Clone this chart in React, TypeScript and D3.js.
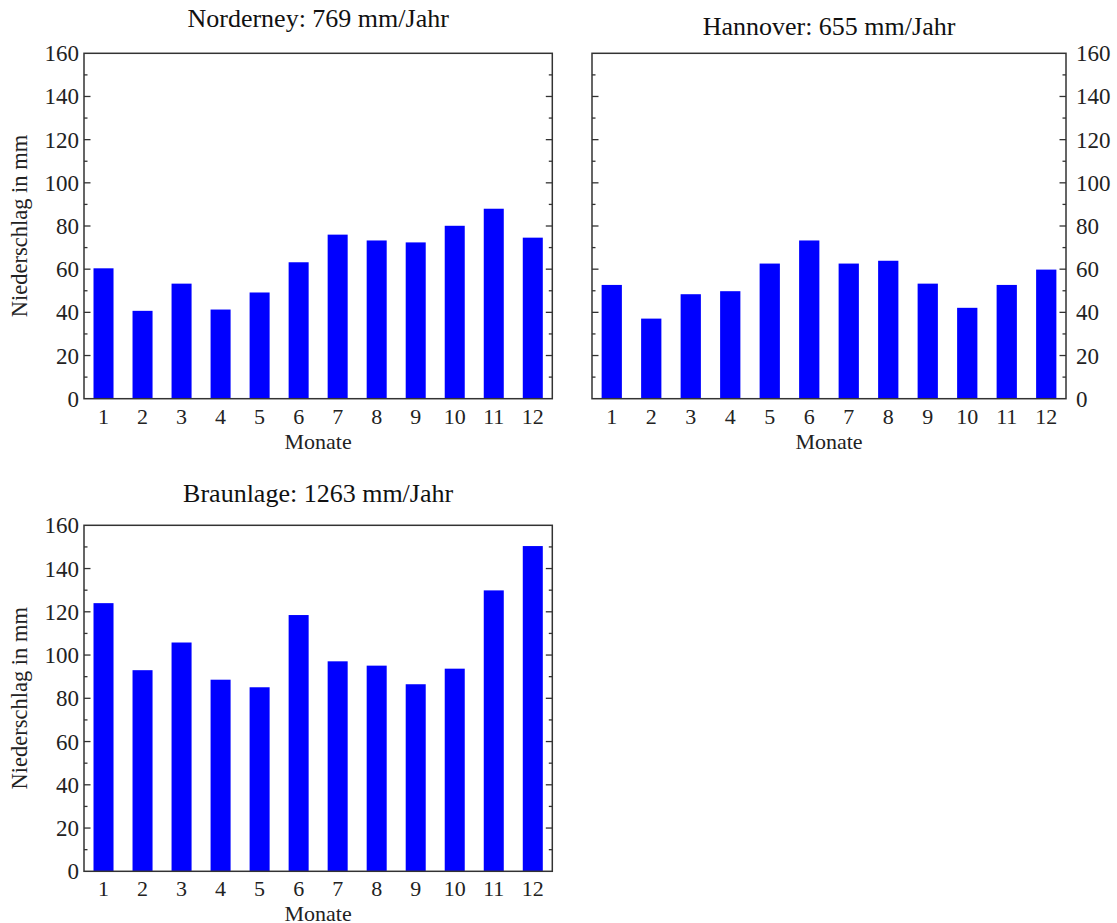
import React from "react";
import * as d3 from "d3";

// Monthly precipitation (mm) for three stations in Lower Saxony
const months = ["1", "2", "3", "4", "5", "6", "7", "8", "9", "10", "11", "12"];
const norderney = [60.4, 40.7, 53.3, 41.3, 49.2, 63.2, 76.0, 73.3, 72.4, 80.1, 88.0, 74.6];
const hannover = [52.7, 37.1, 48.4, 49.8, 62.6, 73.3, 62.6, 63.9, 53.3, 42.1, 52.7, 59.8];
const braunlage = [124.0, 93.0, 105.8, 88.6, 85.1, 118.5, 97.1, 95.1, 86.5, 93.7, 129.9, 150.4];
const titles = ["Norderney: 769 mm/Jahr", "Hannover: 655 mm/Jahr", "Braunlage: 1263 mm/Jahr"];
const yMajorTicks = [0, 20, 40, 60, 80, 100, 120, 140, 160];
const yMinorTicks = [10, 30, 50, 70, 90, 110, 130, 150];
const xLabel = "Monate";
const yLabel = "Niederschlag in mm";

const FONT = "'Liberation Serif', 'Times New Roman', Times, serif";
const AXIS = "#333";
const BAR = "#0000ff";

type PanelProps = {
  values: number[];
  title: string;
  x0: number;
  x1: number;
  y0: number;
  y1: number;
  titleBaseline: number;
  axisSide: "left" | "right";
};

function Panel({ values, title, x0, x1, y0, y1, titleBaseline, axisSide }: PanelProps) {
  const x = d3
    .scaleBand<string>()
    .domain(months)
    .range([x0, x1])
    .paddingInner(0.487)
    .paddingOuter(0.2435);
  const y = d3.scaleLinear().domain([0, 160]).range([y1, y0]);
  const cx = (x0 + x1) / 2;
  const majorLen = 6.5;
  const minorLen = 3.5;

  return (
    <g>
      <text
        x={cx}
        y={titleBaseline}
        textAnchor="middle"
        fontFamily={FONT}
        fontSize={26}
        fill="#111"
      >
        {title}
      </text>

      {values.map((v, i) => (
        <rect
          key={months[i]}
          x={x(months[i])}
          y={y(v)}
          width={x.bandwidth()}
          height={y(0) - y(v)}
          fill={BAR}
        />
      ))}

      {/* inward ticks on both vertical sides */}
      {yMajorTicks.slice(1, -1).map((t) => (
        <g key={"M" + t}>
          <line x1={x0} x2={x0 + majorLen} y1={y(t)} y2={y(t)} stroke={AXIS} strokeWidth={1.3} />
          <line x1={x1} x2={x1 - majorLen} y1={y(t)} y2={y(t)} stroke={AXIS} strokeWidth={1.3} />
        </g>
      ))}
      {yMinorTicks.map((t) => (
        <g key={"m" + t}>
          <line x1={x0} x2={x0 + minorLen} y1={y(t)} y2={y(t)} stroke={AXIS} strokeWidth={1.3} />
          <line x1={x1} x2={x1 - minorLen} y1={y(t)} y2={y(t)} stroke={AXIS} strokeWidth={1.3} />
        </g>
      ))}

      <rect
        x={x0}
        y={y0}
        width={x1 - x0}
        height={y1 - y0}
        fill="none"
        stroke={AXIS}
        strokeWidth={1.5}
      />

      {yMajorTicks.map((t) => (
        <text
          key={"l" + t}
          x={axisSide === "left" ? x0 - 5 : x1 + 10}
          y={y(t) + 8}
          textAnchor={axisSide === "left" ? "end" : "start"}
          fontFamily={FONT}
          fontSize={23}
          fill="#222"
        >
          {t}
        </text>
      ))}

      {months.map((m) => (
        <text
          key={"x" + m}
          x={(x(m) as number) + x.bandwidth() / 2}
          y={y1 + 25}
          textAnchor="middle"
          fontFamily={FONT}
          fontSize={22}
          fill="#222"
        >
          {m}
        </text>
      ))}

      <text
        x={cx}
        y={y1 + 50}
        textAnchor="middle"
        fontFamily={FONT}
        fontSize={22}
        fill="#222"
      >
        {xLabel}
      </text>

      {axisSide === "left" && (
        <text
          transform={`translate(${x0 - 57},${(y0 + y1) / 2}) rotate(-90)`}
          textAnchor="middle"
          fontFamily={FONT}
          fontSize={22.5}
          fill="#222"
        >
          {yLabel}
        </text>
      )}
    </g>
  );
}

export default function App() {
  return (
    <svg
      width={1117}
      height={923}
      style={{ position: "absolute", left: 0, top: 0, background: "#fff" }}
    >
      <rect width={1117} height={923} fill="#fff" />
      <Panel
        values={norderney}
        title={titles[0]}
        x0={84}
        x1={552.3}
        y0={53.3}
        y1={398.7}
        titleBaseline={27}
        axisSide="left"
      />
      <Panel
        values={hannover}
        title={titles[1]}
        x0={592}
        x1={1066}
        y0={53.3}
        y1={398.7}
        titleBaseline={35}
        axisSide="right"
      />
      <Panel
        values={braunlage}
        title={titles[2]}
        x0={84}
        x1={552.3}
        y0={525.3}
        y1={871.3}
        titleBaseline={502}
        axisSide="left"
      />
    </svg>
  );
}
